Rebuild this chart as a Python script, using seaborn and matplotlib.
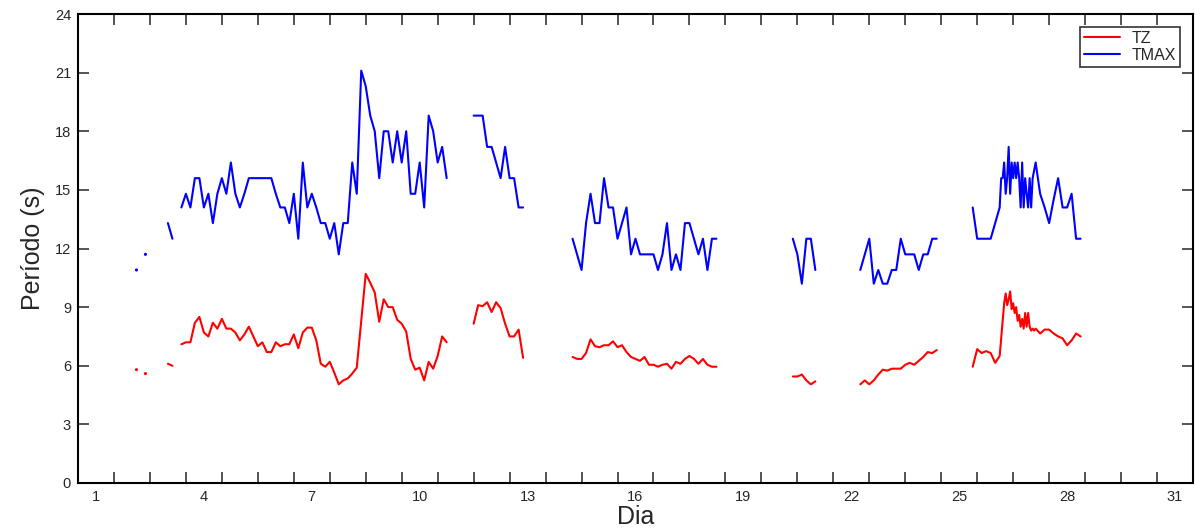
import numpy as np
import pandas as pd
import matplotlib
matplotlib.use('Agg')
import matplotlib.pyplot as plt
import seaborn as sns

sns.set_style('ticks')
plt.rcParams['font.family'] = ['Liberation Sans', 'DejaVu Sans']

# dados: trechos continuos (dia inicial, passo em horas, valores em s)
# TZ
tz_a = [5.8]
tz_b = [5.6]
tz_c = [6.1, 6.0]
tz_d = [7.1, 7.2, 7.2, 8.2, 8.5, 7.7, 7.5, 8.2, 7.9, 8.4, 7.9, 7.9, 7.7, 7.3, 7.6,
        8.0, 7.5, 7.0, 7.2, 6.7, 6.7, 7.2, 7.0, 7.1, 7.1, 7.6, 6.9, 7.7, 7.95, 7.95,
        7.3, 6.1, 5.95, 6.2, 5.65, 5.05, 5.25, 5.35, 5.6, 5.9, 8.3, 10.7, 10.25, 9.75, 8.25,
        9.4, 9.0, 9.0, 8.35, 8.15, 7.75, 6.35, 5.8, 5.9, 5.25, 6.2, 5.85, 6.5, 7.5, 7.2]
tz_e = [8.15, 9.1, 9.05, 9.25, 8.75, 9.25, 8.95, 8.15, 7.5, 7.5, 7.85, 6.4]
tz_f = [6.45, 6.35, 6.35, 6.65, 7.35, 7.0, 6.95, 7.05, 7.05, 7.25, 6.95, 7.05, 6.7, 6.45,
        6.35, 6.25, 6.45, 6.05, 6.05, 5.95, 6.05, 6.1, 5.85, 6.2, 6.1, 6.35, 6.5, 6.35,
        6.1, 6.35, 6.05, 5.95, 5.95]
tz_g = [5.45, 5.45, 5.55, 5.25, 5.05, 5.2]
tz_h = [5.05, 5.25, 5.05, 5.25, 5.55, 5.8, 5.75, 5.85, 5.85, 5.85, 6.05, 6.15, 6.05,
        6.25, 6.45, 6.7, 6.65, 6.8]
tz_i1 = [5.95, 6.85, 6.65, 6.75, 6.65, 6.15]
tz_i2 = [6.5, 7.4, 8.3, 9.2, 9.7, 9.1, 9.4, 9.8, 8.9, 9.2, 8.7, 9.0, 8.3, 8.6, 8.0, 8.4,
         7.9, 8.7, 8.0, 8.7, 8.0, 7.8, 7.9, 7.8, 7.9]
tz_i3 = [7.65, 7.85, 7.85, 7.65, 7.5, 7.4, 7.05, 7.3, 7.65, 7.5]

# TMAX
tmax_a = [10.9]
tmax_b = [11.7]
tmax_c = [13.3, 12.5]
tmax_d = [14.1, 14.8, 14.1, 15.6, 15.6, 14.1, 14.8, 13.3, 14.8, 15.6, 14.8, 16.4, 14.8, 14.1,
          14.8, 15.6, 15.6, 15.6, 15.6, 15.6, 15.6, 14.8, 14.1, 14.1, 13.3, 14.8, 12.5, 16.4,
          14.1, 14.8, 14.1, 13.3, 13.3, 12.5, 13.3, 11.7, 13.3, 13.3, 16.4, 14.8, 21.1, 20.3,
          18.8, 18.0, 15.6, 18.0, 18.0, 16.4, 18.0, 16.4, 18.0, 14.8, 14.8, 16.4, 14.1, 18.8,
          18.0, 16.4, 17.2, 15.6]
tmax_e = [18.8, 18.8, 18.8, 17.2, 17.2, 16.4, 15.6, 17.2, 15.6, 15.6, 14.1, 14.1]
tmax_f = [12.5, 11.7, 10.9, 13.3, 14.8, 13.3, 13.3, 15.6, 14.1, 14.1, 12.5, 13.3, 14.1, 11.7,
          12.5, 11.7, 11.7, 11.7, 11.7, 10.9, 11.7, 13.3, 10.9, 11.7, 10.9, 13.3, 13.3, 12.5,
          11.7, 12.5, 10.9, 12.5, 12.5]
tmax_g = [12.5, 11.7, 10.2, 12.5, 12.5, 10.9]
tmax_h = [10.9, 11.7, 12.5, 10.2, 10.9, 10.2, 10.2, 10.9, 10.9, 12.5, 11.7, 11.7, 11.7, 10.9,
          11.7, 11.7, 12.5, 12.5]
tmax_i1 = [14.1, 12.5, 12.5, 12.5, 12.5, 13.3]
tmax_i2 = [14.1, 15.6, 15.6, 16.4, 14.8, 15.6, 17.2, 14.8, 16.4, 15.6, 16.4, 15.6, 16.4, 15.6,
           14.1, 16.4, 14.1, 15.6, 14.8, 14.1, 15.6, 14.1, 15.6, 16.0, 16.4]
tmax_i3 = [14.8, 14.1, 13.3, 14.5, 15.6, 14.1, 14.1, 14.8, 12.5, 12.5]

# inicio de cada trecho (dia) e passo (h)
seg_inicio = [2.625, 2.875, 3.5, 3.875, 12.0, 14.75, 20.875, 22.75, [25.875, 26.625, 27.75]]
seg_passo = [3, 3, 3, 3, 3, 3, 3, 3, [3, 1, 3]]

tz_trechos = [tz_a, tz_b, tz_c, tz_d, tz_e, tz_f, tz_g, tz_h, [tz_i1, tz_i2, tz_i3]]
tmax_trechos = [tmax_a, tmax_b, tmax_c, tmax_d, tmax_e, tmax_f, tmax_g, tmax_h,
                [tmax_i1, tmax_i2, tmax_i3]]


def monta(nome, trechos):
    linhas = []
    for k, (ini, passo, vals) in enumerate(zip(seg_inicio, seg_passo, trechos)):
        if not isinstance(ini, list):
            ini, passo, vals = [ini], [passo], [vals]
        for i0, p, v in zip(ini, passo, vals):
            for j, y in enumerate(v):
                linhas.append((nome, k, i0 + j * p / 24.0, y))
    return linhas


df = pd.DataFrame(monta('TZ', tz_trechos) + monta('TMAX', tmax_trechos),
                  columns=['Serie', 'Trecho', 'Dia', 'Periodo'])

fig = plt.figure(figsize=(11.95, 5.31), dpi=100)
ax = fig.add_axes([78 / 1195, 48 / 531, 1115 / 1195, 469 / 531])

cores = {'TZ': '#ff0000', 'TMAX': '#0000ff'}
sns.lineplot(data=df, x='Dia', y='Periodo', hue='Serie', units='Trecho', estimator=None,
             palette=cores, hue_order=['TZ', 'TMAX'], linewidth=1.5, ax=ax)

# pontos isolados
tam = df.groupby(['Serie', 'Trecho'])['Dia'].transform('size')
sns.scatterplot(data=df[tam == 1], x='Dia', y='Periodo', hue='Serie', palette=cores,
                s=5, linewidth=0, legend=False, ax=ax)

ax.set_xlim(1, 32)
ax.set_ylim(0, 24)
ax.set_xticks(np.arange(2, 32))
ax.set_xticklabels([])
ax.set_xticks(np.arange(1.5, 32, 3), minor=True)
ax.set_xticklabels([str(d) for d in range(1, 32, 3)], minor=True)
ax.tick_params(axis='x', which='major', direction='in', length=8, width=1.1,
               top=True, bottom=True)
ax.tick_params(axis='x', which='minor', length=0, pad=5, labelsize=10.5)
ax.set_yticks(np.arange(0, 25, 3))
ax.tick_params(axis='y', direction='in', length=8, width=1.1, left=True, right=True,
               labelsize=10.5, pad=5)
for s in ax.spines.values():
    s.set_linewidth(1.5)
    s.set_color('black')

ax.set_xlabel('Dia', fontsize=18, labelpad=1)
ax.set_ylabel('Período (s)', fontsize=18, labelpad=7)

leg = ax.legend(loc='upper right', bbox_to_anchor=(1180 / 1195, 504 / 531),
                bbox_transform=fig.transFigure, borderaxespad=0, fontsize=11.5,
                frameon=True, fancybox=False, handlelength=2.3, handletextpad=0.7,
                borderpad=0.25, labelspacing=0.1, title=None)
leg.get_frame().set_edgecolor('black')
leg.get_frame().set_linewidth(1.2)

fig.savefig('out.png', dpi=100)
